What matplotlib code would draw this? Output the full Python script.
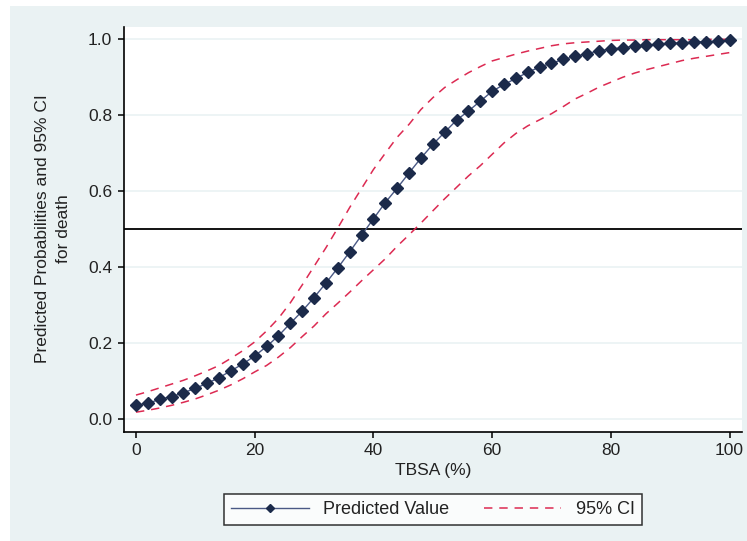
import matplotlib.pyplot as plt
from matplotlib.patches import Rectangle

plt.rcParams['font.family'] = ['Liberation Sans', 'DejaVu Sans']

# TBSA grid and predicted probabilities
tbsa = list(range(0, 101, 2))
predicted = [0.037, 0.041, 0.052, 0.059, 0.069, 0.081, 0.094, 0.109, 0.127, 0.145,
             0.166, 0.191, 0.219, 0.252, 0.284, 0.320, 0.358, 0.398, 0.440, 0.484,
             0.527, 0.570, 0.608, 0.648, 0.687, 0.723, 0.755, 0.787, 0.811, 0.837,
             0.863, 0.881, 0.897, 0.913, 0.927, 0.937, 0.947, 0.955, 0.962, 0.970,
             0.974, 0.978, 0.982, 0.985, 0.987, 0.989, 0.991, 0.993, 0.994, 0.995,
             0.997]
ci_upper = [0.063, 0.072, 0.082, 0.092, 0.102, 0.114, 0.127, 0.141, 0.160, 0.180,
            0.203, 0.232, 0.265, 0.306, 0.353, 0.402, 0.451, 0.503, 0.557, 0.607,
            0.657, 0.700, 0.742, 0.776, 0.815, 0.846, 0.873, 0.893, 0.912, 0.928,
            0.943, 0.952, 0.961, 0.969, 0.976, 0.983, 0.988, 0.991, 0.993, 0.995,
            0.997, 0.998, 0.998, 0.999, 0.999, 0.999, 0.999, 0.999, 1.0, 1.0,
            1.0]
ci_lower = [0.018, 0.023, 0.029, 0.036, 0.044, 0.053, 0.064, 0.076, 0.090, 0.106,
            0.124, 0.141, 0.163, 0.188, 0.217, 0.245, 0.277, 0.305, 0.334, 0.364,
            0.393, 0.422, 0.455, 0.485, 0.516, 0.548, 0.580, 0.610, 0.640, 0.667,
            0.697, 0.727, 0.752, 0.772, 0.788, 0.804, 0.823, 0.843, 0.858, 0.874,
            0.887, 0.900, 0.911, 0.920, 0.928, 0.936, 0.944, 0.950, 0.955, 0.960,
            0.965]
yticks = [0.0, 0.2, 0.4, 0.6, 0.8, 1.0]
xticks = [0, 20, 40, 60, 80, 100]
cutoff = 0.5

bg = '#eaf2f3'
navy = '#1b2a4a'
red = '#dc2a52'
txt = '#222222'

fig = plt.figure(figsize=(7.47, 5.41), dpi=100, facecolor='white')
fig.patches.append(Rectangle((10 / 747, 0), 1, 1 - 6 / 541, transform=fig.transFigure,
                             facecolor=bg, edgecolor='none', zorder=-10))

ax = fig.add_axes([124 / 747, 1 - 431.5 / 541, 618 / 747, 404.5 / 541])
ax.set_facecolor('white')

for y in yticks:
    ax.axhline(y, color=bg, lw=1.2, zorder=0)
ax.axhline(cutoff, color='black', lw=1.3, zorder=1)

ax.plot(tbsa, ci_upper, color=red, lw=1.1, dashes=(5.5, 4.5), zorder=2, label='95% CI')
ax.plot(tbsa, ci_lower, color=red, lw=1.1, dashes=(5.5, 4.5), zorder=2)
ax.plot(tbsa, predicted, color='#4a5985', lw=1.0, marker='D', ms=5.8,
        mfc=navy, mec=navy, zorder=3, label='Predicted Value')

ax.set_xlim(-2.02, 102.1)
ax.set_ylim(-0.0329, 1.0324)
ax.set_xticks(xticks)
ax.set_yticks(yticks)
ax.set_yticklabels([f'{v:.1f}' for v in yticks])
for s in ['top', 'right']:
    ax.spines[s].set_visible(False)
for s in ['left', 'bottom']:
    ax.spines[s].set_linewidth(1.2)
ax.tick_params(direction='out', length=4.5, width=1.1, labelsize=12.5,
               labelcolor=txt, pad=4)

fig.text(433 / 747, 1 - 470 / 541, 'TBSA (%)', ha='center', va='center',
         fontsize=12.5, color=txt)
fig.text(53 / 747, 1 - 229 / 541, 'Predicted Probabilities and 95% CI\nfor death',
         rotation=90, ha='center', va='center', multialignment='center',
         linespacing=1.5, fontsize=12.5, color=txt)

h, l = ax.get_legend_handles_labels()
leg = fig.legend(h[::-1], l[::-1], ncol=2, loc='center',
                 bbox_to_anchor=(433 / 747, 1 - 509.5 / 541), bbox_transform=fig.transFigure,
                 fontsize=13, frameon=True, fancybox=False, handlelength=4.3,
                 columnspacing=1.9, markerscale=0.75, borderpad=0.4, labelcolor=txt)
leg.get_frame().set_edgecolor('black')
leg.get_frame().set_linewidth(1.1)
leg.get_frame().set_facecolor('white')

fig.savefig('out.png', dpi=100, facecolor=fig.get_facecolor())
